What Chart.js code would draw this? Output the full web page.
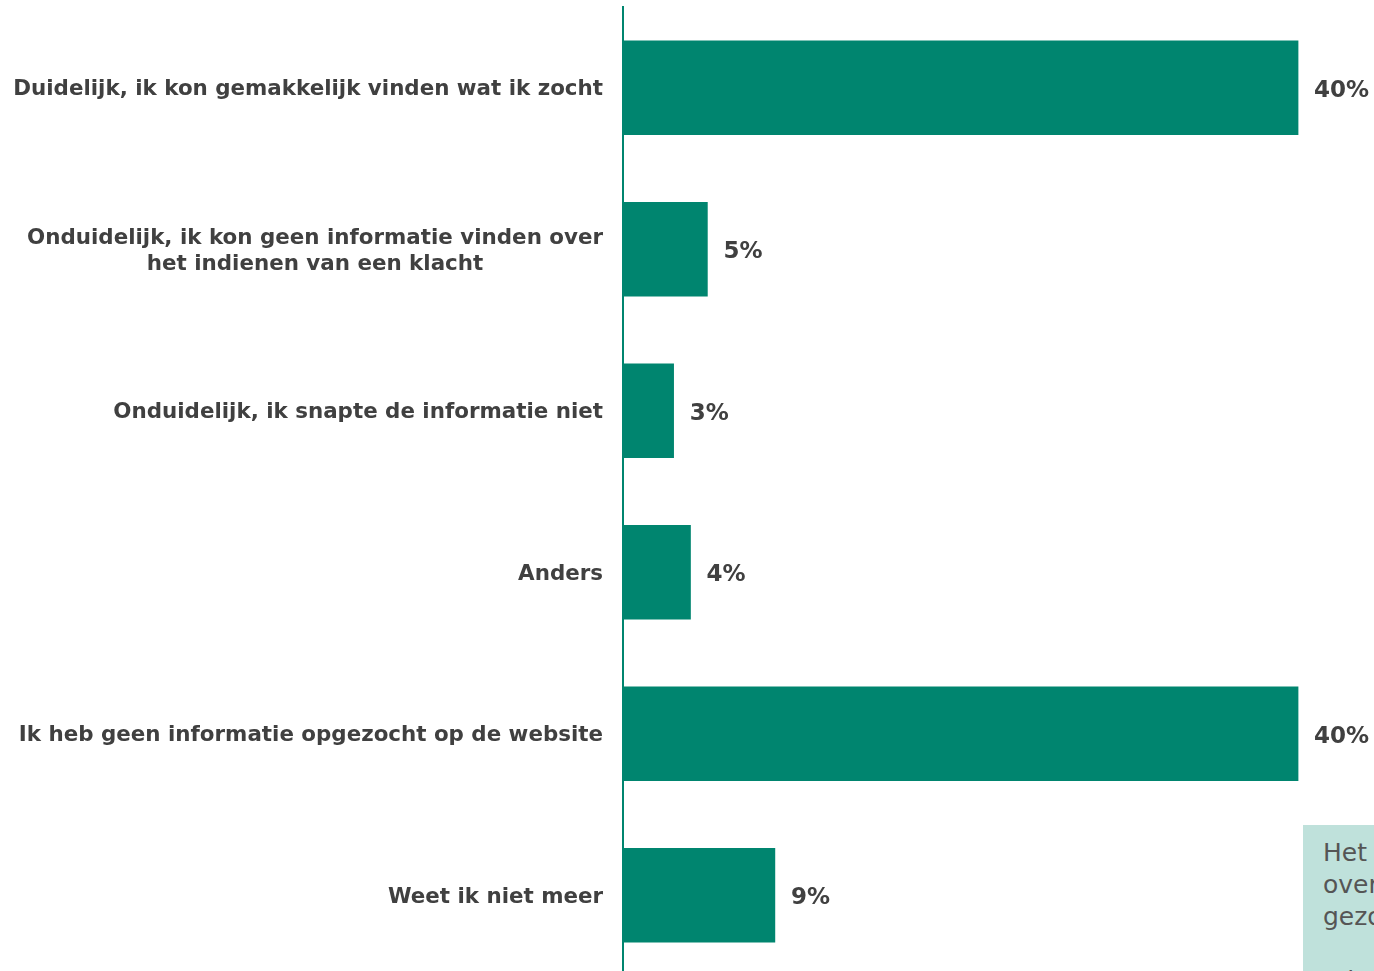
<!DOCTYPE html>
<html>
<head>
<meta charset="utf-8">
<script src="https://cdn.jsdelivr.net/npm/chart.js@4"></script>
<style>
  html, body { margin: 0; padding: 0; background: #fff; overflow: hidden; }
  #wrap { position: relative; width: 1374px; height: 971px; overflow: hidden; }
  #chartBox { position: absolute; left: 0; top: 0; width: 1374px; height: 980px; }
  #note {
    position: absolute; left: 1303px; top: 825px; width: 300px; height: 200px;
    background: #bfe1db; color: #555; font-family: "DejaVu Sans", Verdana, sans-serif;
    font-size: 25px; line-height: 32px; padding: 12px 0 0 20px; box-sizing: border-box;
    white-space: pre;
  }
</style>
</head>
<body>
<div id="wrap">
  <div id="chartBox"><canvas id="myChart"></canvas></div>
  <div id="note">Het
over
gezocht

Wie</div>
</div>
<script>
const answers = [
  ["Duidelijk, ik kon gemakkelijk vinden wat ik zocht"],
  ["Onduidelijk, ik kon geen informatie vinden over", "het indienen van een klacht"],
  ["Onduidelijk, ik snapte de informatie niet"],
  ["Anders"],
  ["Ik heb geen informatie opgezocht op de website"],
  ["Weet ik niet meer"]
];
const percentages = [40, 5, 3, 4, 40, 9];

const green = "#00856f";
const textGrey = "#404040";
const labelFont = 'bold 21.4px "DejaVu Sans", Verdana, sans-serif';
const valueFont = 'bold 23px "DejaVu Sans", Verdana, sans-serif';

// category labels, drawn centred line by line and right aligned as a block
const answerLabels = {
  id: "answerLabels",
  afterDraw(chart) {
    const ctx = chart.ctx;
    const y = chart.scales.y;
    const right = chart.chartArea.left - 20;
    ctx.save();
    ctx.font = labelFont;
    ctx.fillStyle = textGrey;
    ctx.textBaseline = "middle";
    ctx.textAlign = "center";
    answers.forEach((lines, i) => {
      const widths = lines.map(l => ctx.measureText(l).width);
      const w = Math.max(...widths);
      const cx = right - w / 2;
      const cy = y.getPixelForValue(i) + 2;
      const lh = 26;
      lines.forEach((l, j) => {
        ctx.fillText(l, cx, cy + (j - (lines.length - 1) / 2) * lh);
      });
    });
    ctx.restore();
  }
};

// percentage at the end of every bar
const valueLabels = {
  id: "valueLabels",
  afterDatasetsDraw(chart) {
    const ctx = chart.ctx;
    const meta = chart.getDatasetMeta(0);
    ctx.save();
    ctx.font = valueFont;
    ctx.fillStyle = textGrey;
    ctx.textBaseline = "middle";
    ctx.textAlign = "left";
    meta.data.forEach((bar, i) => {
      ctx.fillText(percentages[i] + "%", bar.x + 16, bar.y + 3);
    });
    ctx.restore();
  }
};

const data = {
  labels: answers.map(a => a.join(" ")),
  datasets: [{
    data: percentages,
    backgroundColor: green,
    barThickness: 94,
    borderWidth: 0
  }]
};

const config = {
  type: "bar",
  data: data,
  options: {
    indexAxis: "y",
    responsive: true,
    maintainAspectRatio: false,
    animation: false,
    layout: { padding: { top: 7, bottom: 4, left: 0, right: 0 } },
    plugins: { legend: { display: false }, tooltip: { enabled: false } },
    scales: {
      x: { display: false, min: 0, max: 44.5 },
      y: {
        ticks: { display: false },
        grid: { display: false },
        border: { display: true, color: green, width: 2 },
        afterFit(scale) { scale.width = 623; }
      }
    }
  },
  plugins: [answerLabels, valueLabels]
};

new Chart(document.getElementById("myChart"), config);
</script>
</body>
</html>
